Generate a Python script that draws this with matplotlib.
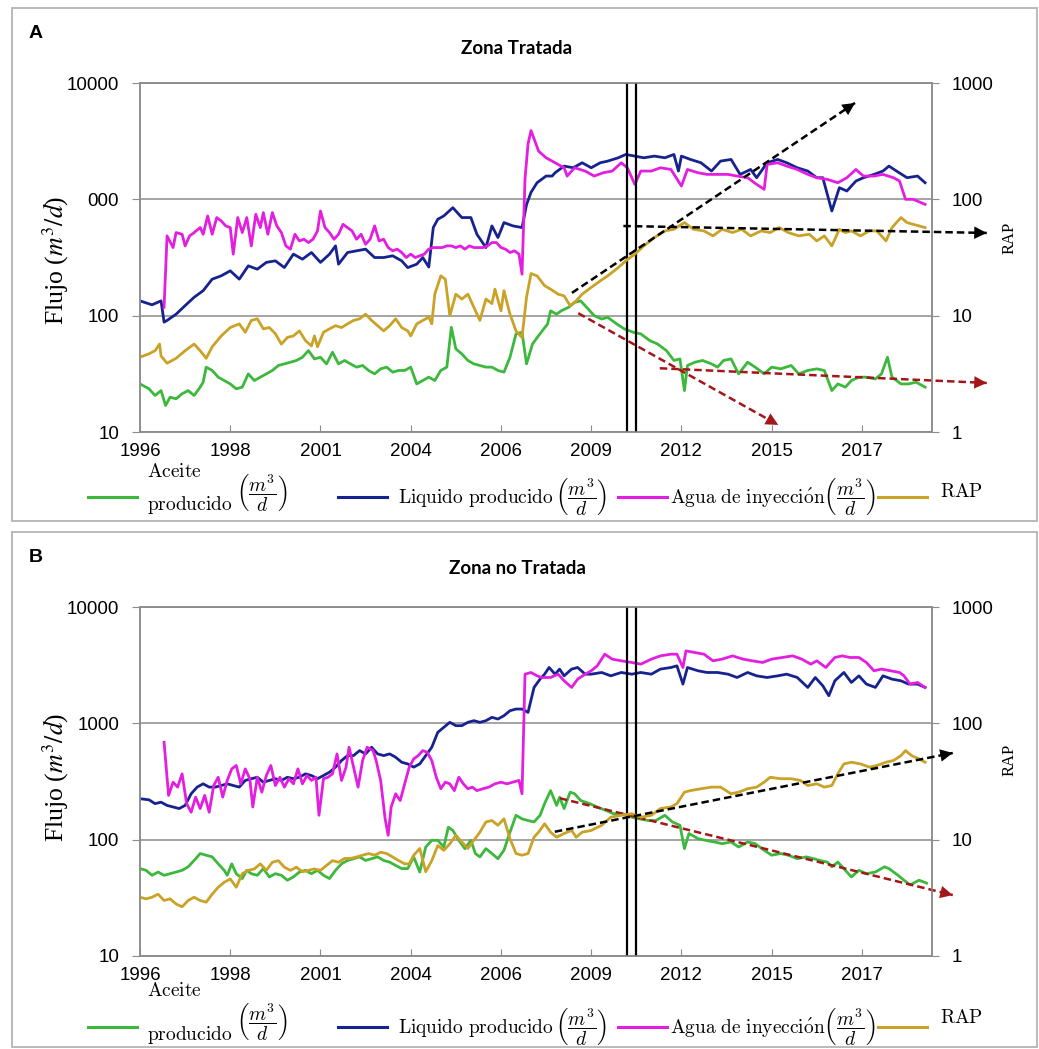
import matplotlib
matplotlib.use("Agg")
import matplotlib.pyplot as plt
from matplotlib.lines import Line2D
from matplotlib.patches import Rectangle
from matplotlib.ticker import NullLocator

plt.rcParams["font.family"] = ["Liberation Sans", "DejaVu Sans"]

# ---- data: (month since Jan-1996, value) ----
tick_months = [0, 30, 60, 90, 120, 150, 180, 210, 240]
year_labels = ["1996", "1998", "2001", "2004", "2006", "2009", "2012", "2015", "2017"]
split_months = [162, 165]

# Zona Tratada
a_liquido = [(0,134),(4,124),(7,134),(8,88),(9,91),(12,103),(15,122),(18,144),(21,164),(24,206),(27,220),(30,243),
             (33,206),(36,268),(39,251),(42,287),(45,296),(48,259),(51,338),(54,306),(57,349),(60,287),(63,338),(65,398),
             (66,277),(69,349),(72,361),(75,373),(78,316),(81,316),(84,327),(87,296),(89,259),(92,277),(94,316),(96,262),
             (97.5,572),(99,674),(101,720),(104,848),(105,794),(107,697),(110,697),(112,501),(115,385),(117,591),(119,469),
             (121,631),(124,591),(127,572),(128.5,900),(130,1150),(132,1389),(135,1585),(137,1585),(138,1693),(141,1931),
             (144,1868),(147,2062),(150,1868),(153,2062),(155.5,2131),(159,2276),(161.5,2430),(164.5,2352),(167.5,2276),
             (171,2352),(174.5,2276),(177.5,2430),(179,1750),(180,2352),(183,2203),(186.5,2062),(190,1750),(193,2131),
             (196.5,2203),(199.5,1638),(203,1807),(205,1534),(208.5,2062),(212,2203),(215,2062),(218.5,1868),(222,1750),
             (225,1534),(227,1534),(230,794),(232.5,1259),(235,1179),(238,1436),(240.5,1534),(244,1638),(247,1750),
             (249,1931),(251.5,1750),(255,1534),(258.5,1585),(261,1389)]
a_agua = [(8,118),(9,485),(11,385),(12,518),(14,501),(15,398),(16.5,485),(18,518),(20,572),(21,501),(22.5,720),(24,501),
          (25.5,697),(27,652),(28.5,591),(30,572),(31,338),(32.5,697),(34,518),(35.5,697),(37,398),(38.5,744),(40,572),
          (41,769),(42.5,501),(44,769),(45.5,591),(47,518),(48.5,398),(50,373),(51.5,501),(53,439),(54.5,454),(56,425),
          (57.5,454),(59,535),(60,794),(61.5,572),(63,518),(64.5,454),(66,501),(67.5,610),(69,572),(70.5,535),(72,454),
          (73.5,501),(75,411),(76.5,454),(78,591),(79.5,439),(81,454),(82.5,385),(84,361),(85.5,373),(87,349),(88.5,316),
          (90,338),(91.5,316),(93,327),(94.5,338),(96,373),(97.5,385),(99,385),(100.5,385),(102,398),(103.5,398),(105,385),
          (106.5,398),(108,373),(109.5,398),(111,385),(112.5,385),(114,385),(115.5,398),(117,425),(118.5,425),(120,385),
          (121.5,373),(123,349),(124.5,361),(126,338),(127,227),(128,1500),(129,3000),(130,3900),(132.5,2600),(135,2276),
          (138,2062),(141,1868),(142,1585),(144.5,1868),(148,1750),(151,1585),(154,1693),(157,1750),(160,2062),(162,1868),
          (164.5,1345),(166.5,1750),(170,1750),(173,1868),(176.5,1807),(180,1301),(182,1807),(185.5,1693),(188.5,1638),
          (192,1638),(195.5,1638),(198.5,1585),(202,1534),(205,1345),(207.5,1218),(208.5,1996),(212,2062),(215,1931),
          (218.5,1807),(222,1638),(225,1534),(228.5,1484),(232,1389),(235,1534),(238,1807),(240.5,1585),(244,1585),
          (247,1638),(250.5,1534),(252.5,1436),(254.5,1000),(257,1000),(261,906)]
a_rap = [(0,4.4),(3,4.7),(5,5.0),(6.5,5.7),(7,4.5),(9,3.9),(12,4.3),(15,5.0),(18,5.7),(20,5.0),(22,4.3),(24,5.4),(27,6.7),
         (30,7.9),(33,8.5),(35,7.2),(37,9.1),(39,9.4),(41,7.7),(43,7.9),(45,7.0),(47,5.7),(49,6.5),(51,6.7),(53,7.4),
         (55,6.1),(57,5.5),(58,6.7),(59,5.4),(61,7.2),(63,7.7),(65,8.2),(67,7.9),(69,8.5),(71,9.1),(73,9.4),(75,10.3),
         (77,9.1),(79,8.2),(81,7.4),(83,8.2),(85,9.4),(87,7.9),(89,7.4),(90,6.7),(92,8.5),(94,9.1),(96,9.7),(97,8.5),
         (98,15.3),(100,22.0),(101.5,20.6),(103,10.0),(105,15.3),(107,13.9),(109,15.3),(111,11.8),(113,9.1),(115,13.9),
         (117,12.7),(118,16.9),(120,11.0),(121,16.4),(123,10.3),(125,7.4),(126.5,6.7),(127,6.5),(128.5,14.4),(130,23.0),
         (132,22.0),(134.5,18.1),(136.5,16.9),(139,15.3),(141,14.8),(143,12.2),(145,13.4),(147,15.3),(150,17.5),
         (153,19.9),(155.5,22.0),(159,25.9),(161.5,29.6),(164.5,33.8),(167.5,39.8),(171,46.9),(174.5,53.5),(177.5,55.3),
         (181,63.1),(184,55.3),(187.5,53.5),(190.5,48.5),(193.5,55.3),(197,51.8),(200,55.3),(203,48.5),(206.5,53.5),
         (209.5,51.8),(212.5,57.2),(215.5,51.8),(219,48.5),(222.5,50.1),(225,43.9),(227.5,48.5),(230,39.8),(232.5,55.3),
         (234.5,51.8),(236.5,53.5),(239.5,48.5),(242.5,53.5),(245,53.5),(248,43.9),(250,57.2),(253,69.7),(255,63.1),
         (257,61.0),(261,57.2)]
a_aceite = [(0,25.9),(3,23.5),(5,20.6),(7,22.7),(8.5,16.9),(10,19.9),(12,19.3),(14,21.3),(16,22.7),(18,20.6),(20,24.3),
            (21,26.8),(22,36.1),(24,33.8),(26,29.6),(28,27.7),(30,25.9),(32,23.5),(34,24.3),(36,31.6),(38,27.7),(40,29.6),
            (42,31.6),(44,33.8),(46,37.3),(48,38.5),(50,39.8),(52,41.2),(54,43.9),(56,50.1),(58,42.5),(60,43.9),(62,38.5),
            (64,48.5),(66,38.5),(68,41.2),(70,38.5),(72,36.1),(74,37.3),(76,33.8),(78,31.6),(80,34.9),(82,36.1),(84,32.7),
            (86,33.8),(88,33.8),(90,36.1),(92,25.9),(94,27.7),(96,29.6),(98,27.7),(100,33.8),(102,36.1),(103.5,79.4),
            (105,51.8),(107,46.9),(109,41.2),(111,38.5),(113,37.3),(115,36.1),(117,36.1),(119,33.8),(121,32.7),(123,43.9),
            (125,69.7),(127,72.0),(128.5,38.5),(130.5,57.2),(133,70.0),(135.5,84.8),(136.5,110),(138.5,103),(140,110),
            (142.5,118),(144.5,130),(146.5,134),(149,114),(151,100),(153.5,93.6),(155.5,96.8),(158.5,84.8),(161,77.0),
            (164,72.0),(166.5,69.7),(169.5,61.0),(172,57.2),(175,50.1),(177.5,41.2),(179.5,42.5),(181,22.7),(182,37.3),
            (184.5,39.8),(187,41.2),(190,38.5),(192,36.1),(194,41.2),(196.5,42.5),(199,31.6),(202,39.8),(204.5,36.1),
            (207.5,31.6),(210,36.1),(213,34.9),(216.5,37.3),(219,31.6),(222,33.8),(225,34.9),(227.5,33.8),(230,22.7),
            (232,25.9),(234.5,24.3),(236.5,27.7),(239,29.6),(241.5,29.6),(244.5,28.6),(246.5,31.6),(248.5,43.9),(250,29.6),
            (253,25.9),(255.5,25.9),(258,26.8),(261,24.3)]

# Zona no Tratada
b_liquido = [(0,225),(3,220),(5,204),(7,210),(9,197),(11,191),(13,185),(15,197),(17,248),(19,283),(21,302),(23,283),
             (25,283),(27,292),(29,302),(31,292),(33,283),(35,323),(37,334),(39,344),(41,312),(43,323),(45,334),(47,323),
             (49,344),(51,334),(53,344),(55,368),(57,356),(59,334),(61,356),(63,380),(65,420),(67,479),(69,528),(71,528),
             (73,583),(75,546),(77,623),(79,546),(81,528),(83,546),(85,511),(87,463),(89,448),(91,420),(93,448),(95,528),
             (97,623),(99,837),(101,924),(103,1020),(105,955),(107,955),(109,1020),(111,1054),(113,1020),(115,1054),
             (117,1126),(119,1089),(121,1163),(123,1284),(125,1327),(127,1327),(129,1243),(131,2035),(133,2399),
             (134.5,2646),(136,3020),(138,2646),(139.5,2925),(141,2560),(143.5,2925),(145.5,3020),(148,2646),(150,2646),
             (153.5,2736),(156.5,2560),(160,2736),(163.5,2646),(166.5,2736),(170,2646),(173,2925),(176.5,3020),
             (178.5,3120),(180.5,2174),(182,3020),(185.5,2830),(188.5,2736),(192,2736),(195.5,2646),(198.5,2478),
             (202,2736),(205,2560),(208.5,2478),(212,2560),(215,2646),(218.5,2478),(222,2035),(224.5,2478),(227,2102),
             (229,1727),(231,2320),(234,2736),(236.5,2246),(239,2560),(241.5,2174),(244.5,2035),(247,2560),(250,2399),
             (253,2320),(255.5,2174),(258.5,2174),(261,2035)]
b_agua = [(8,687),(9.5,240),(11,312),(12.5,283),(14,368),(15.5,204),(17,172),(18.5,232),(20,185),(21.5,240),(23,172),
          (24.5,292),(26,344),(27.5,232),(29,323),(30.5,406),(32,434),(33.5,302),(35,406),(36.5,334),(37.5,191),(39,344),
          (40.5,256),(42,356),(43.5,434),(45,292),(46.5,344),(48,283),(49.5,334),(51,302),(52.5,406),(54,302),(55.5,356),
          (57,323),(58.5,344),(59.5,162),(61,334),(62.5,344),(64,368),(65.5,546),(67,323),(68.5,420),(69.5,623),(71,420),
          (72.5,283),(74,479),(75.5,623),(77.5,583),(78.5,479),(80,323),(81.5,151),(82.5,109),(83.5,191),(85,248),
          (86.5,217),(88,302),(89.5,420),(91,495),(92.5,528),(94,583),(95.5,564),(97,479),(98.5,344),(100,274),
          (101.5,312),(103,302),(104.5,264),(106,344),(107.5,302),(109,274),(110.5,283),(112,264),(114,274),(116,283),
          (118,302),(120,312),(122,302),(124,312),(126,323),(127,248),(128,2646),(130,2736),(132,2560),(133.5,2478),
          (136.5,2478),(139,2646),(141,2320),(143.5,2035),(145.5,2399),(148,2646),(150,2830),(152,3120),(154.5,3929),
          (157,3563),(160,3447),(163.5,3335),(166.5,3226),(170,3563),(173,3801),(176.5,3929),(178.5,3929),(180.5,3020),
          (181.5,4196),(184.5,4060),(187.5,3929),(190.5,3447),(193.5,3563),(197,3801),(200.5,3563),(203.5,3447),
          (207,3335),(210,3563),(213.5,3683),(217,3801),(220,3563),(223,3226),(225,3447),(228,3020),(231,3683),
          (233.5,3801),(236,3683),(239,3683),(241.5,3335),(244,2830),(246.5,2925),(249.5,2830),(252.5,2736),(254,2560),
          (256,2174),(258.5,2246),(261,2035)]
b_rap = [(0,3.2),(2,3.1),(4,3.2),(6,3.4),(8,3.0),(10,3.1),(12,2.8),(14,2.65),(16,3.0),(18,3.2),(20,3.0),(22,2.9),(24,3.4),
         (26,3.9),(28,4.3),(30,4.6),(32,3.9),(34,5.1),(36,5.45),(38,5.6),(40,6.2),(42,5.45),(44,6.4),(46,6.6),(48,5.8),
         (50,5.45),(52,5.8),(54,5.3),(56,5.45),(58,5.6),(60,5.45),(62,6.0),(64,6.6),(66,6.4),(68,6.9),(70,6.9),(72,7.1),
         (74,7.35),(76,7.6),(78,7.35),(80,7.8),(82,7.6),(84,7.1),(86,6.6),(88,6.2),(89.5,6.2),(91,7.35),(93,8.4),(95,5.3),
         (97,6.6),(99,8.9),(101,8.1),(103,9.2),(105,10.9),(107,9.55),(109,8.4),(111,9.9),(113,11.6),(115,14.2),(117,14.6),
         (119,13.3),(121,15.1),(123,10.2),(125,7.6),(127,7.35),(129,7.6),(131,10.5),(132.5,11.6),(134.5,13.7),
         (136.5,11.6),(138.5,10.5),(141,11.3),(143.5,12.0),(145,10.5),(147,11.6),(150,12.0),(153.5,13.3),(156.5,15.6),
         (160,16.2),(163.5,16.7),(166.5,15.6),(170,16.2),(173,18.5),(176.5,19.1),(178.5,20.4),(181,25.6),(183,26.4),
         (186.5,27.4),(190,28.3),(193,28.3),(196.5,24.8),(199,25.6),(202,27.4),(205,28.3),(207.5,31.2),(209.5,34.4),
         (213,33.4),(216.5,33.4),(219.5,32.3),(222,29.2),(225,30.2),(227.5,28.3),(230,29.2),(232,36.8),(234,44.8),
         (236.5,46.3),(239.5,44.8),(242.5,42.0),(245,43.4),(248,46.3),(250.5,47.9),(253,52.8),(254.5,58.3),(256.5,52.8),
         (259,49.5),(261,46.3)]
b_aceite = [(0,56.4),(2,54.5),(4,49.4),(6,52.7),(8,49.4),(10,51.0),(12,52.7),(14,54.5),(16,58.4),(18,66.3),(20,76.0),
            (22,73.5),(24,71.1),(26,62.0),(28,54.5),(29,49.4),(30.5,62.0),(32,51.0),(34,46.3),(35.5,54.5),(37,51.0),
            (39,49.4),(41,56.4),(43,47.8),(45,51.0),(47,49.4),(49,44.8),(51,47.8),(53,52.7),(55,54.5),(57,51.0),(59,54.5),
            (61,49.4),(63,46.3),(65,54.5),(67,62.0),(69,66.3),(71,68.6),(73,71.1),(75,66.3),(77,68.6),(79,71.1),(81,66.3),
            (83,64.1),(85,60.0),(87,56.4),(89,56.4),(91,71.1),(93,52.7),(95,86.5),(97,98.7),(99,98.7),(101,86.5),
            (102.5,128),(104,120),(106,98.7),(108,83.7),(110,98.7),(111.5,76.0),(113,71.1),(115,83.7),(117,76.0),
            (119,68.6),(121,81.1),(123,116),(125,162),(127,151),(129,146),(131,142),(133,162),(134.5,204),(136.5,264),
            (138.5,197),(139.5,232),(141,185),(143,256),(144.5,248),(146.5,217),(149.5,204),(152,191),(155,178),
            (157.5,167),(160.5,167),(163.5,156),(166,151),(169,146),(171.5,146),(174.5,162),(177,142),(179.5,133),
            (181,83.7),(182.5,113),(185.5,102),(188,98.7),(191,95.5),(193.5,92.4),(196.5,95.5),(199,86.5),(202,95.5),
            (204.5,92.4),(207.5,81.1),(210,73.5),(213,76.0),(215.5,73.5),(218.5,68.6),(221.5,71.1),(224,68.6),(226,66.3),
            (228.5,64.1),(230,58.4),(232,64.1),(234.5,54.5),(236.5,47.8),(239,54.5),(241.5,51.0),(244.5,52.7),
            (247.5,58.4),(249,56.4),(252,49.4),(254,44.8),(256,40.9),(259,44.8),(261.5,42.3)]

# trend arrows: flow ones on the left axis, RAP ones on the right axis
a_flow_trends = [((145.7, 105), (212.2, 11.5)), ((172.8, 35.3), (281.5, 26.4))]
a_rap_trends = [((143.6, 15.7), (237.7, 674)), ((160.7, 59.0), (281.5, 51.4))]
b_flow_trends = [((139.6, 227), (270.2, 33.4))]
b_rap_trends = [((137.9, 11.7), (270.2, 55.6))]

C_ACEITE = "#3cb83c"
C_LIQ = "#16238f"
C_AGUA = "#e31ee0"
C_RAP = "#c9a227"
C_GRID = "#8c8c8c"
C_RED = "#a3161a"

W, H = 1039, 1049
fig = plt.figure(figsize=(W / 100, H / 100), dpi=100)


def fx(px):
    return px / W


def fy(py):
    return 1 - py / H


def dashed_arrow(ax, p0, p1, color):
    ax.plot([p0[0], p1[0]], [p0[1], p1[1]], color=color, lw=1.8, ls=(0, (3, 1.6)),
            clip_on=False, zorder=6)
    ax.annotate("", xy=p1, xytext=p0, annotation_clip=False, zorder=6,
                arrowprops=dict(arrowstyle="-|>,head_length=0.9,head_width=0.45",
                                color=color, lw=0, shrinkA=0, shrinkB=0))


def panel(top, aceite, liquido, agua, rap, flow_trends, rap_trends, left_labels):
    bottom = top + 349
    ax = fig.add_axes([fx(140), fy(bottom), fx(932) - fx(140), fy(top) - fy(bottom)])
    ax.set_yscale("log")
    ax.set_ylim(10, 10000)
    ax.set_xlim(0, 263.3)
    ax.yaxis.set_minor_locator(NullLocator())
    ax.set_yticks([10, 100, 1000, 10000])
    ax.set_yticklabels(left_labels)
    ax.set_xticks(tick_months)
    ax.set_xticklabels(year_labels)
    ax.yaxis.grid(True, color=C_GRID, lw=1.1)
    ax.set_axisbelow(True)
    for s in ax.spines.values():
        s.set_color(C_GRID)
        s.set_linewidth(1.1)
    ax.tick_params(axis="x", direction="in", length=5, color=C_GRID, pad=8, labelsize=13.5)
    ax.tick_params(axis="y", direction="out", length=6, color=C_GRID, pad=9, labelsize=13.5)

    for series, color in [(aceite, C_ACEITE), (liquido, C_LIQ), (agua, C_AGUA)]:
        m, v = zip(*series)
        ax.plot(m, v, color=color, lw=2.0, solid_joinstyle="round")
    for m in split_months:
        ax.axvline(m, color="black", lw=1.6, zorder=4)
    for p0, p1 in flow_trends:
        dashed_arrow(ax, p0, p1, C_RED)

    ax2 = ax.twinx()
    ax2.set_yscale("log")
    ax2.set_ylim(1, 1000)
    ax2.yaxis.set_minor_locator(NullLocator())
    ax2.set_yticks([1, 10, 100, 1000])
    ax2.set_yticklabels(["1", "10", "100", "1000"])
    for s in ax2.spines.values():
        s.set_color(C_GRID)
        s.set_linewidth(1.1)
    ax2.tick_params(axis="y", direction="out", length=5, color=C_GRID, pad=9, labelsize=13.5)
    m, v = zip(*rap)
    ax2.plot(m, v, color=C_RAP, lw=2.0, solid_joinstyle="round")
    for p0, p1 in rap_trends:
        dashed_arrow(ax2, p0, p1, "black")
    return ax


def legend(y_line, y_aceite, y_producido, y_frac, y_rap):
    frac = r"\left(\dfrac{m^3}{d}\right)"
    kw = dict(fontsize=14, math_fontfamily="cm", va="center", ha="left")
    for (x0, x1), color in [((88, 137), C_ACEITE), ((338, 387), C_LIQ),
                            ((618, 667), C_AGUA), ((878, 927), C_RAP)]:
        fig.add_artist(Line2D([fx(x0), fx(x1)], [fy(y_line), fy(y_line)], color=color, lw=2.2))
    fig.text(fx(147), fy(y_aceite), r"$\mathrm{Aceite}$", **kw)
    fig.text(fx(147), fy(y_producido), r"$\mathrm{producido}$", **kw)
    fig.text(fx(236), fy(y_frac), "$" + frac + "$", **kw)
    fig.text(fx(398), fy(y_line), r"$\mathrm{Liquido\ producido}\,"+ frac + "$", **kw)
    fig.text(fx(670), fy(y_line), r"$\mathrm{Agua\ de\ inyecci\acute{o}n}" + frac + "$", **kw)
    fig.text(fx(940), fy(y_rap), r"$\mathrm{RAP}$", **kw)


# panel frames
for y0, y1 in [(8, 521), (532, 1047)]:
    fig.add_artist(Rectangle((fx(12), fy(y1)), fx(1037) - fx(12), fy(y0) - fy(y1),
                             transform=fig.transFigure, fill=False, ec="#b4b4b4", lw=1.3))

panel(83, a_aceite, a_liquido, a_agua, a_rap, a_flow_trends, a_rap_trends,
      ["10", "100", "000", "10000"])
panel(607, b_aceite, b_liquido, b_agua, b_rap, b_flow_trends, b_rap_trends,
      ["10", "100", "1000", "10000"])

legend(497, 472, 505, 493, 492)
legend(1027, 991, 1035, 1022, 1018)

for label, y in [("A", 33), ("B", 557)]:
    fig.text(fx(29), fy(y), label, fontsize=14, weight="bold", va="center", ha="left")
for title, y in [("Zona Tratada", 48), ("Zona no Tratada", 568)]:
    fig.text(fx(517), fy(y), title, family="Lato", weight="bold", fontsize=13.5,
             ha="center", va="center")
for y in [260, 777]:
    fig.text(fx(56), fy(y), r"Flujo ($m^3/d$)", family="Liberation Serif", fontsize=18.5,
             math_fontfamily="stix", rotation=90, ha="center", va="center")
for y in [238, 760]:
    fig.text(fx(1010), fy(y), "RAP", family="Liberation Serif", fontsize=12,
             rotation=90, ha="center", va="center")

fig.savefig("out.png", dpi=100)
